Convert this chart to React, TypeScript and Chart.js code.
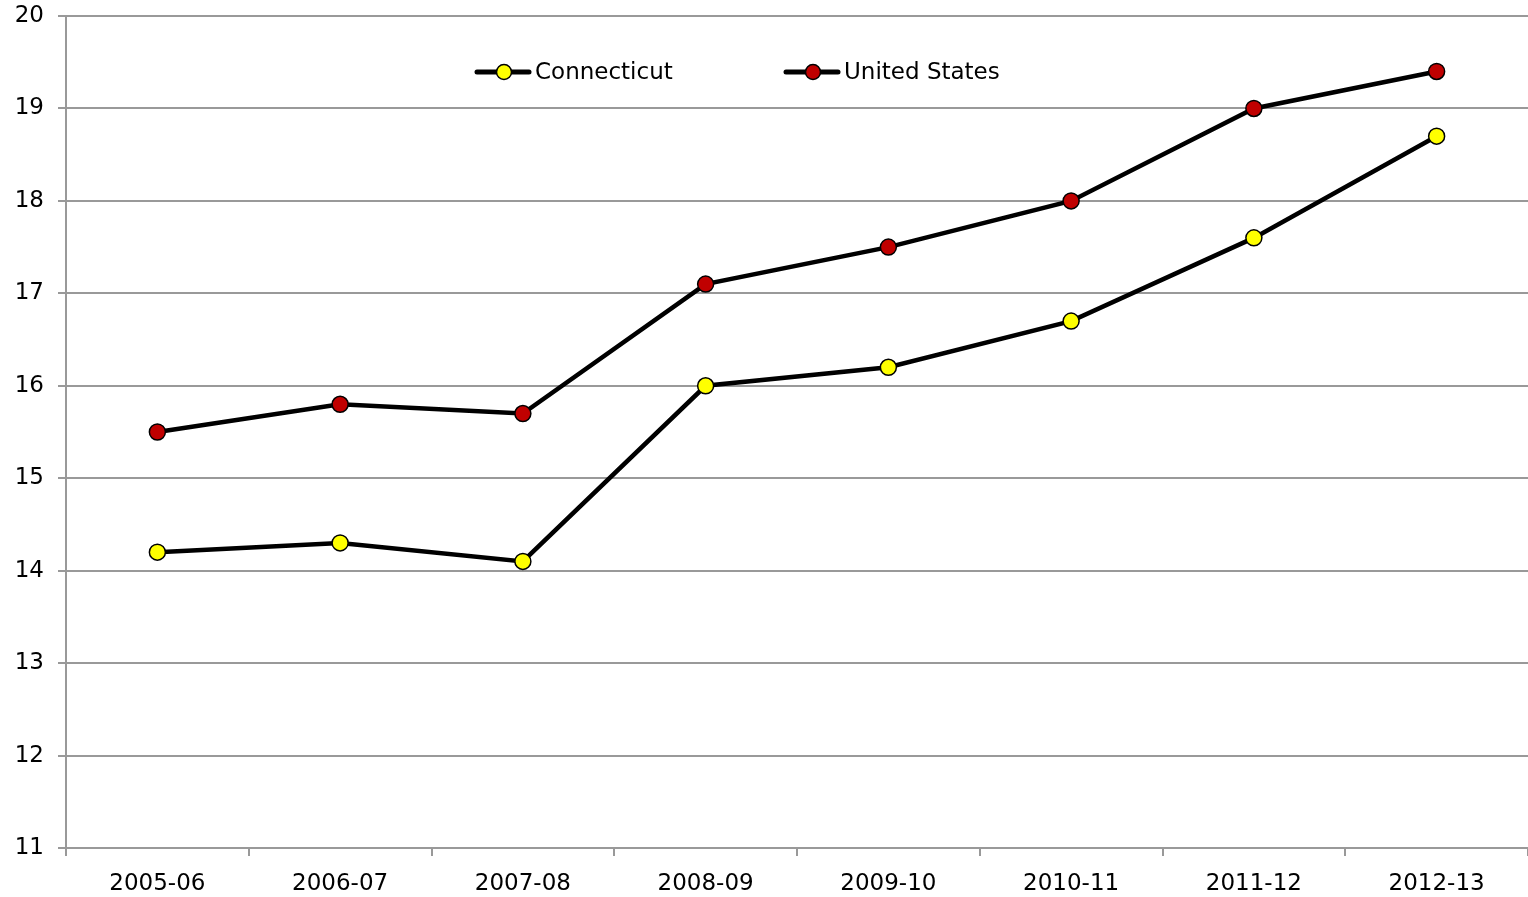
import React, { useEffect, useRef } from "react";
import { Chart, registerables } from "chart.js";

Chart.register(...registerables);

const categories = ["2005-06", "2006-07", "2007-08", "2008-09", "2009-10", "2010-11", "2011-12", "2012-13"];
const connecticut = [14.2, 14.3, 14.1, 16.0, 16.2, 16.7, 17.6, 18.7];
const unitedStates = [15.5, 15.8, 15.7, 17.1, 17.5, 18.0, 19.0, 19.4];
const seriesNames = ["Connecticut", "United States"];
const yMin = 11;
const yMax = 20;

const FONT = "'DejaVu Sans', Verdana, sans-serif";

const legendPlugin = {
  id: "insideLegend",
  afterDraw(chart: any) {
    const ctx = chart.ctx;
    const items = [
      { x: 477, label: seriesNames[0], color: "#ffff00" },
      { x: 786, label: seriesNames[1], color: "#c00000" },
    ];
    const y = 72;
    ctx.save();
    items.forEach((it) => {
      ctx.strokeStyle = "#000";
      ctx.lineWidth = 5;
      ctx.lineCap = "round";
      ctx.beginPath();
      ctx.moveTo(it.x, y);
      ctx.lineTo(it.x + 52, y);
      ctx.stroke();
      ctx.beginPath();
      ctx.arc(it.x + 27, y, 7.5, 0, Math.PI * 2);
      ctx.fillStyle = it.color;
      ctx.fill();
      ctx.lineWidth = 1.5;
      ctx.stroke();
      ctx.fillStyle = "#000";
      ctx.font = `23px ${FONT}`;
      ctx.textBaseline = "middle";
      ctx.textAlign = "left";
      ctx.fillText(it.label, it.x + 58, y + 1);
    });
    ctx.restore();
  },
};

export default function App() {
  const ref = useRef<HTMLCanvasElement | null>(null);
  useEffect(() => {
    document.body.style.margin = "0";
    const canvas = ref.current!;
    const chart = new Chart(canvas, {
      type: "line",
      data: {
        labels: categories,
        datasets: [
          {
            label: seriesNames[0],
            data: connecticut,
            borderColor: "#000",
            borderWidth: 4.5,
            pointBackgroundColor: "#ffff00",
            pointBorderColor: "#000",
            pointBorderWidth: 1.5,
            pointRadius: 8,
            tension: 0,
          },
          {
            label: seriesNames[1],
            data: unitedStates,
            borderColor: "#000",
            borderWidth: 4.5,
            pointBackgroundColor: "#c00000",
            pointBorderColor: "#000",
            pointBorderWidth: 1.5,
            pointRadius: 8,
            tension: 0,
          },
        ],
      },
      options: {
        animation: false,
        responsive: false,
        maintainAspectRatio: false,
        layout: { autoPadding: false, padding: { top: 16, right: 0, left: 0, bottom: 0 } },
        plugins: {
          legend: { display: false },
          tooltip: { enabled: false },
        },
        scales: {
          x: {
            offset: true,
            grid: {
              offset: true,
              drawOnChartArea: false,
              drawTicks: true,
              tickLength: 8,
              color: "#999",
              lineWidth: 2,
            },
            border: { color: "#999", width: 2 },
            ticks: {
              color: "#000",
              font: { family: FONT, size: 23 },
              padding: 14,
              maxRotation: 0,
            },
            afterFit(scale: any) {
              scale.height = 49;
              scale.paddingLeft = 0;
              scale.paddingRight = 0;
            },
          },
          y: {
            min: yMin,
            max: yMax,
            grid: { color: "#999", lineWidth: 2, tickLength: 8 },
            border: { color: "#999", width: 2 },
            ticks: {
              stepSize: 1,
              color: "#000",
              font: { family: FONT, size: 23 },
              padding: 14,
            },
            afterFit(scale: any) {
              scale.width = 66;
              scale.paddingTop = 0;
              scale.paddingBottom = 0;
            },
          },
        },
      },
      plugins: [legendPlugin],
    });
    return () => chart.destroy();
  }, []);
  return (
    <div style={{ width: 1528, height: 897 }}>
      <canvas ref={ref} width={1528} height={897} style={{ display: "block" }} />
    </div>
  );
}
